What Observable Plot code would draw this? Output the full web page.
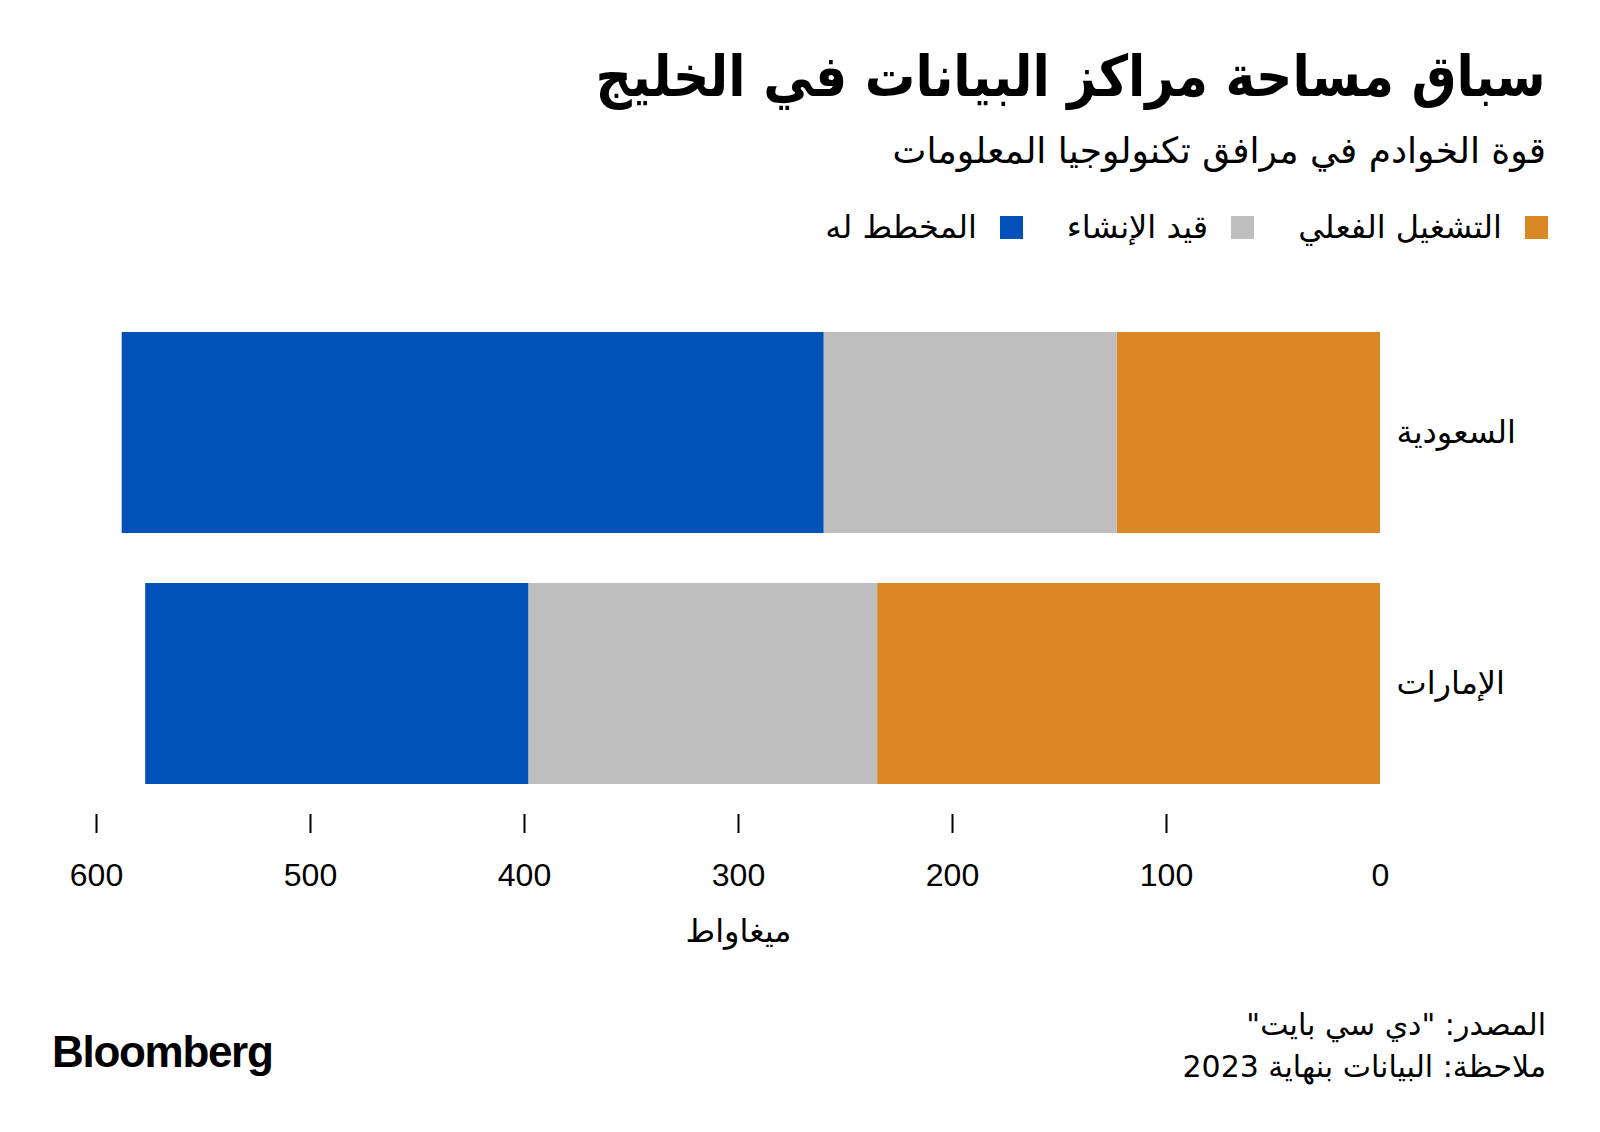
<!DOCTYPE html>
<html><head><meta charset="utf-8">
<script src="https://cdn.jsdelivr.net/npm/d3@7"></script>
<script src="https://cdn.jsdelivr.net/npm/@observablehq/plot@0.6"></script>
<style>
body{margin:0;background:#fff;}
#page{position:relative;width:1600px;height:1132px;overflow:hidden;font-family:"DejaVu Sans",sans-serif;color:#000;}
.rt{position:absolute;right:54px;direction:rtl;white-space:nowrap;}
#title{top:38px;font-size:57px;font-weight:bold;line-height:76px;transform:scaleX(0.885);transform-origin:right center;}
#subtitle{top:126px;font-size:36px;line-height:50px;}
#legend{position:absolute;right:52px;top:205px;direction:rtl;display:flex;align-items:center;gap:44px;font-size:32px;line-height:44px;white-space:nowrap;}
#legend .item{display:flex;align-items:center;gap:23px;}
#legend .sw{width:23px;height:23px;display:inline-block;}
#chart{position:absolute;left:0;top:280px;}
#foot{top:1004px;font-size:30px;line-height:42px;}
#logo{position:absolute;left:52px;top:1023px;font-family:"Liberation Sans",Arial,sans-serif;font-weight:bold;font-size:44px;letter-spacing:-1.3px;line-height:58px;}
</style></head>
<body><div id="page">
<div id="title" class="rt">سباق مساحة مراكز البيانات في الخليج</div>
<div id="subtitle" class="rt">قوة الخوادم في مرافق تكنولوجيا المعلومات</div>
<div id="legend"></div>
<div id="chart"></div>
<div id="foot" class="rt">المصدر: "دي سي بايت"<br>ملاحظة: البيانات بنهاية 2023</div>
<div id="logo">Bloomberg</div>
</div>
<script>
const countries = ["السعودية", "الإمارات"];
const statuses = ["التشغيل الفعلي", "قيد الإنشاء", "المخطط له"];
const colors = ["#DA8726", "#BEBEBE", "#0052B8"];
const operational = [123, 235];
const construction = [137, 163];
const planned = [328, 179];
const xTicks = [0, 100, 200, 300, 400, 500, 600];
const tickMarks = [100, 200, 300, 400, 500, 600];
const unitLabel = "ميغاواط";

const series = [operational, construction, planned];
const data = [];
countries.forEach((c, i) => {
  statuses.forEach((s, j) => data.push({country: c, status: s, value: series[j][i]}));
});

const legend = document.getElementById("legend");
statuses.forEach((s, j) => {
  const it = document.createElement("div");
  it.className = "item";
  const sw = document.createElement("span");
  sw.className = "sw";
  sw.style.background = colors[j];
  const t = document.createElement("span");
  t.textContent = s;
  it.appendChild(sw); it.appendChild(t);
  legend.appendChild(it);
});

const chart = Plot.plot({
  width: 1600,
  height: 710,
  marginLeft: 96,
  marginRight: 220,
  marginTop: 21,
  marginBottom: 176,
  style: {fontFamily: "'Liberation Sans', 'DejaVu Sans', sans-serif", fontSize: "32px", color: "#000", background: "transparent"},
  x: {domain: [0, 600], reverse: true},
  y: {domain: countries, paddingInner: 0.2, paddingOuter: 0.12},
  color: {domain: statuses, range: colors},
  marks: [
    Plot.barX(data, {x: "value", y: "country", fill: "status"}),
    Plot.axisX({ticks: tickMarks, tickSize: 19, strokeWidth: 2, text: null, label: null}),
    Plot.axisX({ticks: xTicks, tickSize: 0, tickPadding: 49, label: unitLabel, labelAnchor: "center", labelArrow: "none", labelOffset: 127}),
    Plot.axisY({anchor: "right", tickSize: 0, tickPadding: 16, label: null})
  ]
});
document.getElementById("chart").appendChild(chart);
</script>
</body></html>
